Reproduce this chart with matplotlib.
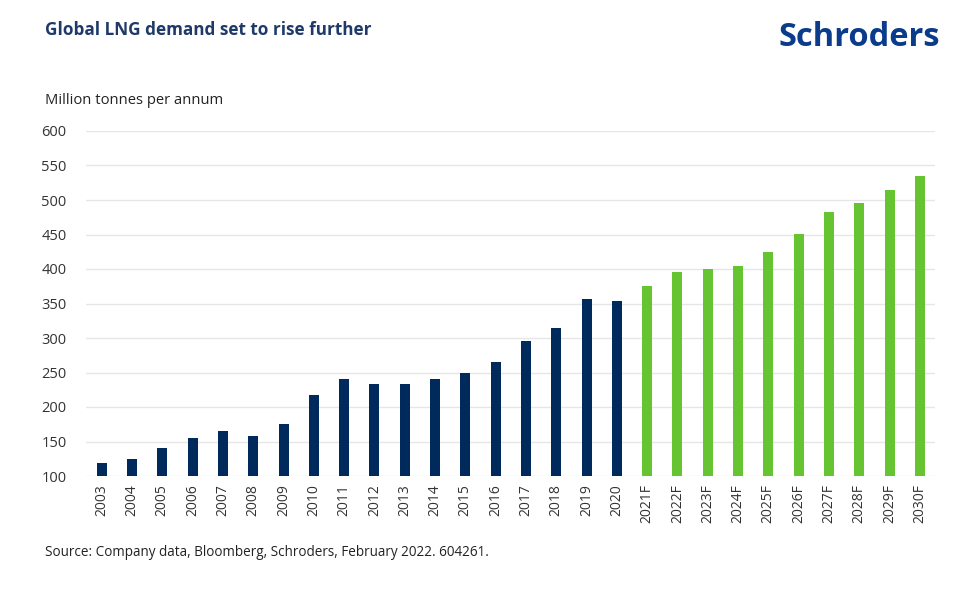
import matplotlib
matplotlib.use("Agg")
import matplotlib.pyplot as plt

years = ["2003", "2004", "2005", "2006", "2007", "2008", "2009", "2010", "2011",
         "2012", "2013", "2014", "2015", "2016", "2017", "2018", "2019", "2020",
         "2021F", "2022F", "2023F", "2024F", "2025F", "2026F", "2027F", "2028F",
         "2029F", "2030F"]
demand = [119, 124, 140, 155, 165, 158, 175, 218, 240, 234, 234, 240, 250, 265,
          295, 315, 356, 354, 375, 395, 400, 405, 425, 450, 482, 495, 515, 535]
is_forecast = [y.endswith("F") for y in years]
yticks = [100, 150, 200, 250, 300, 350, 400, 450, 500, 550, 600]

navy = "#002A5C"
green = "#66C430"
plt.rcParams['font.family'] = ['Open Sans', 'DejaVu Sans']

fig = plt.figure(figsize=(9.59, 5.99), dpi=100)
ax = fig.add_axes([86/959, 1-476/599, (935-86)/959, (476-131)/599])

colors = [green if f else navy for f in is_forecast]
x = list(range(len(years)))
ax.bar(x, [d - 100 for d in demand], bottom=100, width=0.33, color=colors, zorder=3)

ax.set_ylim(100, 600)
ax.set_xlim(-0.52, len(years) - 0.5)
ax.set_yticks(yticks)
ax.set_yticklabels([str(t) for t in yticks], fontsize=10.5, color="#333333")
ax.set_xticks(x)
ax.set_xticklabels(years, rotation=90, fontsize=10, color="#333333")
ax.tick_params(axis='both', length=0)
ax.tick_params(axis='y', pad=14)
ax.tick_params(axis='x', pad=6)
ax.yaxis.grid(True, color="#E6E6E6", linewidth=1, zorder=0)
for s in ax.spines.values():
    s.set_visible(False)
ax.set_axisbelow(True)

fig.text(45/959, 1-30/599, "Global LNG demand set to rise further", fontsize=12.3,
         fontweight="bold", color="#1F3A68", va="center", ha="left")
fig.text(940/959, 1-38/599, "Schroders", fontsize=23.5, fontweight="bold",
         color="#0B3C8C", va="center", ha="right", family=['Open Sans', 'DejaVu Sans'])
fig.text(45/959, 1-100/599, "Million tonnes per annum", fontsize=10.6,
         color="#222222", va="center", ha="left")
fig.text(45/959, 1-553/599, "Source: Company data, Bloomberg, Schroders, February 2022. 604261.",
         fontsize=9.75, color="#222222", va="center", ha="left")

fig.savefig("out.png", dpi=100)
